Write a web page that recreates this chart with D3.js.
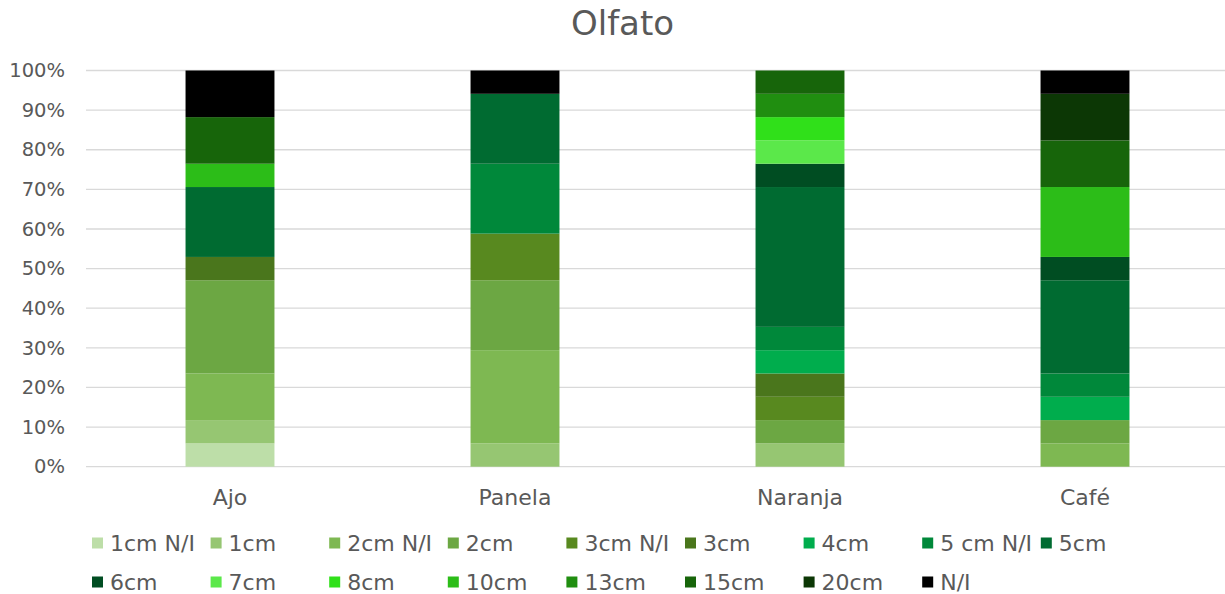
<!DOCTYPE html>
<html>
<head>
<meta charset="utf-8">
<script src="https://cdn.jsdelivr.net/npm/d3@7"></script>
<style>
  html, body { margin: 0; padding: 0; background: #ffffff; }
  svg { display: block; font-family: "DejaVu Sans", sans-serif; }
</style>
</head>
<body>
<svg id="chart" width="1225" height="594"></svg>
<script>
// ---- Data (counts per category; chart shows 100% stacked) ----
const categories = ["Ajo", "Panela", "Naranja", "Café"];
const seriesNames = ["1cm N/I", "1cm", "2cm N/I", "2cm", "3cm N/I", "3cm", "4cm", "5 cm N/I", "5cm",
                     "6cm", "7cm", "8cm", "10cm", "13cm", "15cm", "20cm", "N/I"];
const s1cmNI  = [1, 0, 0, 0];
const s1cm    = [1, 1, 1, 0];
const s2cmNI  = [2, 4, 0, 1];
const s2cm    = [4, 3, 1, 1];
const s3cmNI  = [0, 2, 1, 0];
const s3cm    = [1, 0, 1, 0];
const s4cm    = [0, 0, 1, 1];
const s5cmNI  = [0, 3, 1, 1];
const s5cm    = [3, 3, 6, 4];
const s6cm    = [0, 0, 1, 1];
const s7cm    = [0, 0, 1, 0];
const s8cm    = [0, 0, 1, 0];
const s10cm   = [1, 0, 0, 3];
const s13cm   = [0, 0, 1, 0];
const s15cm   = [2, 0, 1, 2];
const s20cm   = [0, 0, 0, 2];
const sNI     = [2, 1, 0, 1];
const seriesValues = [s1cmNI, s1cm, s2cmNI, s2cm, s3cmNI, s3cm, s4cm, s5cmNI, s5cm,
                      s6cm, s7cm, s8cm, s10cm, s13cm, s15cm, s20cm, sNI];
const yTicks = [0, 0.1, 0.2, 0.3, 0.4, 0.5, 0.6, 0.7, 0.8, 0.9, 1.0];
const title = "Olfato";

// ---- Styles ----
const colors = ["#BDDEA8", "#96C672", "#7EB852", "#6CA743", "#58891F", "#4A761C", "#00AD4D", "#00883A", "#006B31",
                "#004D22", "#5BE84A", "#30E01A", "#2CBD18", "#208E10", "#17650A", "#0C3705", "#000000"];
const textColor = "#595959";

// ---- Build table ----
const table = categories.map((c, i) => {
  const row = { category: c };
  seriesNames.forEach((s, j) => { row[s] = seriesValues[j][i]; });
  return row;
});
const stacked = d3.stack().keys(seriesNames).offset(d3.stackOffsetExpand)(table);

const svg = d3.select("#chart");
const margin = { left: 87.5, right: 1227.5, top: 70.5, bottom: 466.7 };

const x = d3.scaleBand().domain(categories).range([margin.left, margin.right])
  .paddingInner(0.688).paddingOuter(0.344);
const y = d3.scaleLinear().domain([0, 1]).range([margin.bottom, margin.top]);
const color = d3.scaleOrdinal().domain(seriesNames).range(colors);

// Gridlines
svg.append("g")
  .selectAll("line").data(yTicks).join("line")
  .attr("x1", 86).attr("x2", 1225)
  .attr("y1", d => y(d)).attr("y2", d => y(d))
  .attr("stroke", "#d9d9d9").attr("stroke-width", 1.3);

// Y axis labels
const yAxis = d3.axisLeft(y).tickValues(yTicks).tickFormat(d3.format(".0%")).tickSize(0).tickPadding(0);
const yg = svg.append("g").attr("transform", "translate(65,0)").call(yAxis);
yg.select(".domain").remove();
yg.selectAll("text").attr("fill", textColor).attr("font-size", 19.5)
  .attr("font-family", "DejaVu Sans, sans-serif");

// Bars
svg.append("g").selectAll("g").data(stacked).join("g")
  .attr("fill", d => color(d.key))
  .selectAll("rect").data(d => d).join("rect")
  .attr("x", d => x(d.data.category))
  .attr("width", x.bandwidth())
  .attr("y", d => y(d[1]))
  .attr("height", d => y(d[0]) - y(d[1]));

// X axis labels
const xAxis = d3.axisBottom(x).tickSize(0).tickPadding(0);
const xg = svg.append("g").attr("transform", "translate(0,489)").call(xAxis);
xg.select(".domain").remove();
xg.selectAll("text").attr("fill", textColor).attr("font-size", 22)
  .attr("font-family", "DejaVu Sans, sans-serif");

// Title
svg.append("text")
  .attr("x", 622.5).attr("y", 35)
  .attr("text-anchor", "middle")
  .attr("fill", textColor)
  .attr("font-size", 34)
  .text(title);

// Legend
const perRow = 9;
const legend = svg.append("g");
const items = legend.selectAll("g").data(seriesNames).join("g")
  .attr("transform", (d, i) => {
    const col = i % perRow, row = Math.floor(i / perRow);
    const lx = 92 + col * 118.6;
    const ly = 543 + row * 39;
    return `translate(${lx},${ly})`;
  });
items.append("rect")
  .attr("x", 0).attr("y", -5.5).attr("width", 11).attr("height", 11)
  .attr("fill", d => color(d));
items.append("text")
  .attr("x", 18).attr("y", 0).attr("dy", "0.36em")
  .attr("fill", textColor).attr("font-size", 22)
  .text(d => d);
</script>
</body>
</html>
